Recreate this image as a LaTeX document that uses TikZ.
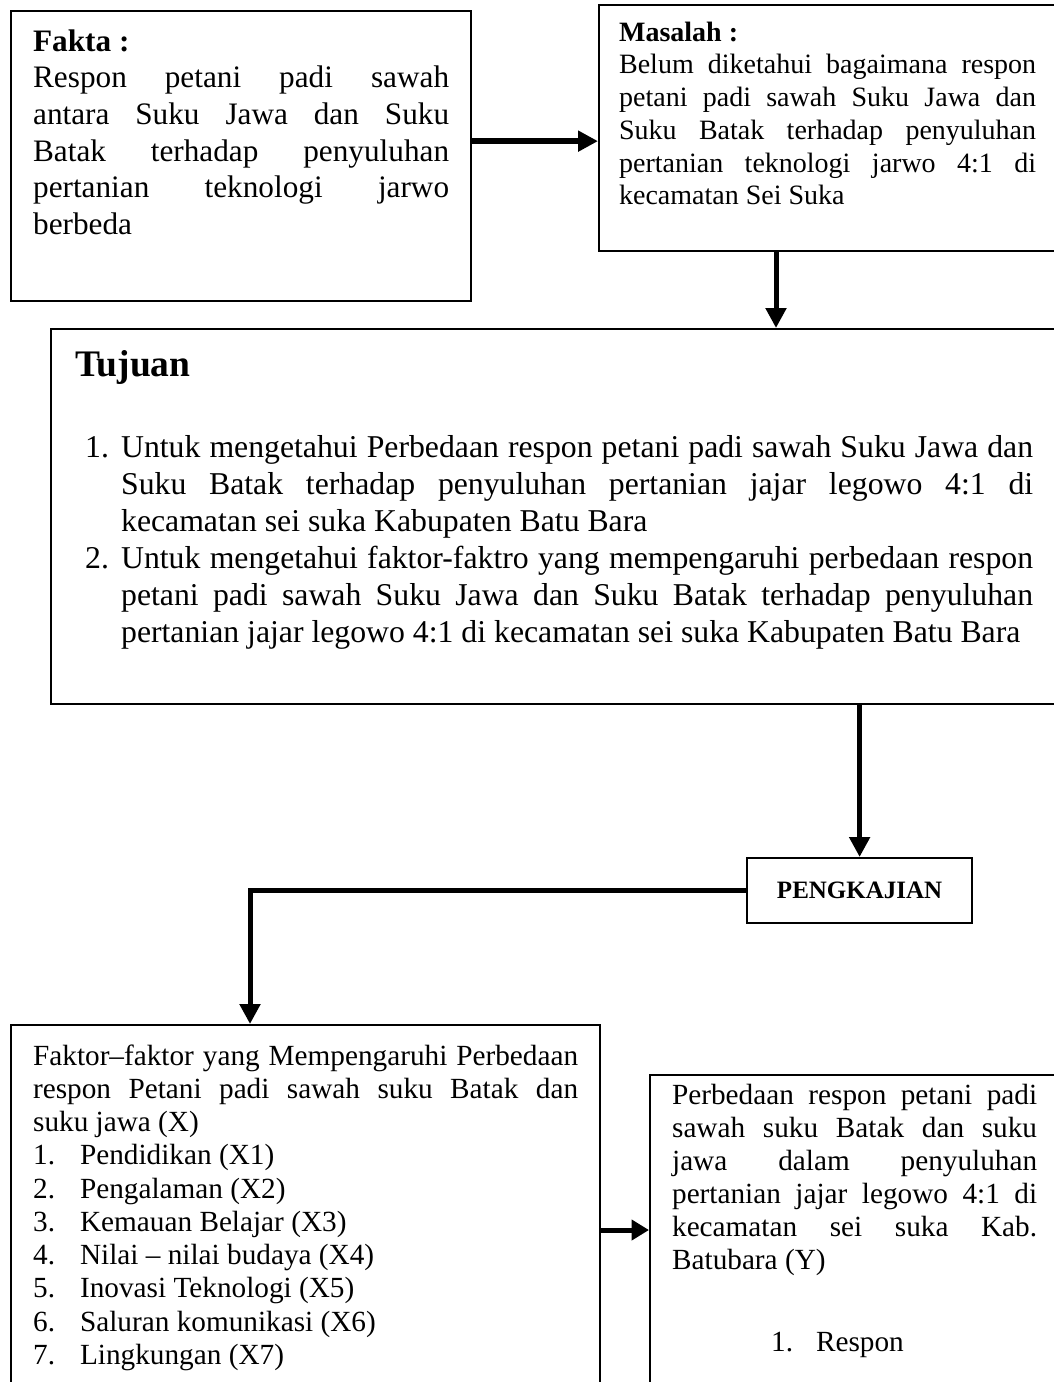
\documentclass[tikz,border=0pt]{standalone}
\usepackage{fontspec}
\setmainfont{Liberation Serif}
\usetikzlibrary{arrows.meta}

\begin{document}
\begin{tikzpicture}[x=0.4pt, y=-0.4pt,
		kotak/.style={draw, line width=0.9pt, anchor=north west, inner ysep=0pt, inner xsep=8.8pt, align=justify},
		panah/.style={line width=2pt, -{Triangle[length=8pt,width=8pt]}}]
		\clip (0,0) rectangle (1054,1382);
		
		% kotak-kotak utama
		\node[kotak, text width=166.4pt, text height=16pt, text depth=100pt,
			font=\fontsize{12.5}{14.65}\selectfont] (fakta) at (10,10)
			{\textbf{Fakta :}\par
			Respon petani padi sawah\linebreak antara Suku Jawa dan Suku\linebreak
			Batak terhadap penyuluhan\linebreak pertanian teknologi jarwo\linebreak berbeda};
		\node[kotak, inner xsep=8pt, text width=166.8pt, text height=14.4pt, text depth=84pt,
			font=\fontsize{11.2}{13.1}\selectfont] (masalah) at (598,4)
			{\textbf{Masalah :}\par
			Belum diketahui bagaimana respon\linebreak petani padi sawah Suku Jawa dan\linebreak
			Suku Batak terhadap penyuluhan\linebreak pertanian teknologi jarwo 4:1 di\linebreak
			kecamatan Sei Suka};
		\node[kotak, inner xsep=9.6pt, text width=383.2pt, text height=18.8pt, text depth=131.2pt,
			font=\fontsize{12.7}{14.8}\selectfont] (tujuan) at (50,328)
			{{\fontsize{15}{18}\selectfont\bfseries Tujuan\par}
			\vspace{17.6pt}
			\hangindent=18.4pt\hangafter=1\noindent\hspace*{4pt}\makebox[14.4pt][l]{1.}Untuk mengetahui Perbedaan respon petani padi sawah Suku Jawa dan\linebreak
			Suku Batak terhadap penyuluhan pertanian jajar legowo 4:1 di\linebreak
			kecamatan sei suka Kabupaten Batu Bara\par
			\hangindent=18.4pt\hangafter=1\noindent\hspace*{4pt}\makebox[14.4pt][l]{2.}Untuk mengetahui faktor-faktro yang mempengaruhi perbedaan respon\linebreak
			petani padi sawah Suku Jawa dan Suku Batak terhadap penyuluhan\linebreak
			pertanian jajar legowo 4:1 di kecamatan sei suka Kabupaten Batu Bara\par};
		\node[draw, line width=0.9pt, anchor=north west, minimum width=90pt, minimum height=26pt,
			inner sep=0pt, font=\fontsize{10}{12}\selectfont\bfseries] (kaji) at (746,857) {PENGKAJIAN};
		\node[kotak, text width=218pt, text height=16pt, text depth=131.2pt,
			font=\fontsize{11.7}{13.3}\selectfont] (faktor) at (10,1024)
			{Faktor--faktor yang Mempengaruhi Perbedaan\linebreak
			respon Petani padi sawah suku Batak dan\linebreak suku jawa (X)\par
			\makebox[18.8pt][l]{1.}Pendidikan (X1)\par
			\makebox[18.8pt][l]{2.}Pengalaman (X2)\par
			\makebox[18.8pt][l]{3.}Kemauan Belajar (X3)\par
			\makebox[18.8pt][l]{4.}Nilai -- nilai budaya (X4)\par
			\makebox[18.8pt][l]{5.}Inovasi Teknologi (X5)\par
			\makebox[18.8pt][l]{6.}Saluran komunikasi (X6)\par
			\makebox[18.8pt][l]{7.}Lingkungan (X7)\par};
		\node[kotak, text width=146pt, text height=11.6pt, text depth=115.6pt,
			font=\fontsize{11.7}{13.2}\selectfont] (perbedaan) at (649,1074)
			{Perbedaan respon petani padi\linebreak sawah suku Batak dan suku\linebreak
			jawa dalam penyuluhan\linebreak pertanian jajar legowo 4:1 di\linebreak
			kecamatan sei suka Kab.\linebreak Batubara (Y)\par
			\vspace{19.6pt}
			\hspace*{39.6pt}\makebox[18pt][l]{1.}Respon\par};
		
		% titik bantu untuk panah
		\coordinate (fk) at ([yshift=6pt]fakta.east);
		\coordinate (ms) at ([xshift=71.2pt]masalah.south west);
		\coordinate (fx) at ([xshift=96pt]faktor.north west);
		\coordinate (fp) at ([yshift=-82.4pt]faktor.north east);
		
		% panah
		\draw[panah, line width=2.6pt] (fk) -- (fk -| masalah.west);
		\draw[panah] (ms) -- (ms |- tujuan.north);
		\draw[panah] (kaji.north |- tujuan.south) -- (kaji.north);
		\draw[panah] (kaji.west) -- (kaji.west -| fx) -- (fx);
		\draw[panah, -{Triangle[length=7pt,width=8pt]}] (fp) -- (fp -| perbedaan.west);
\end{tikzpicture}
\end{document}
